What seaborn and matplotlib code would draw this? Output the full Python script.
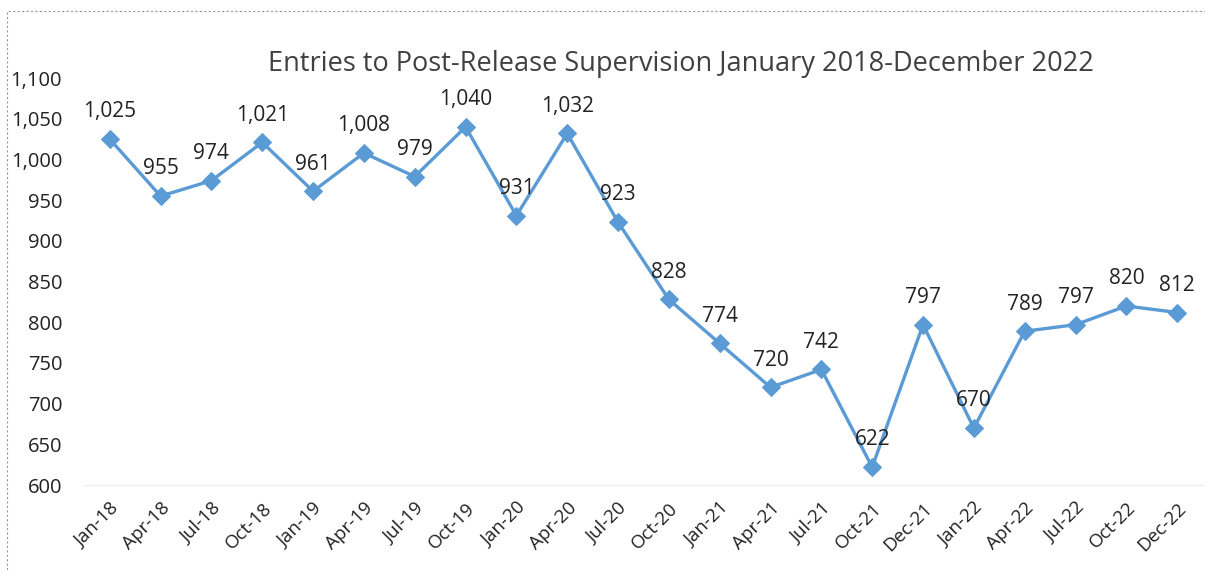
import matplotlib
matplotlib.use("Agg")
import matplotlib.pyplot as plt
import seaborn as sns
import pandas as pd
from matplotlib.patches import Rectangle

periods = ["Jan-18", "Apr-18", "Jul-18", "Oct-18", "Jan-19", "Apr-19", "Jul-19", "Oct-19",
           "Jan-20", "Apr-20", "Jul-20", "Oct-20", "Jan-21", "Apr-21", "Jul-21", "Oct-21",
           "Dec-21", "Jan-22", "Apr-22", "Jul-22", "Oct-22", "Dec-22"]
entries = [1025, 955, 974, 1021, 961, 1008, 979, 1040, 931, 1032, 923, 828, 774, 720, 742,
           622, 797, 670, 789, 797, 820, 812]
y_ticks = [600, 650, 700, 750, 800, 850, 900, 950, 1000, 1050, 1100]
title = "Entries to Post-Release Supervision January 2018-December 2022"

sns.set_theme(style="white")
plt.rcParams['font.family'] = ['Open Sans', 'DejaVu Sans']

df = pd.DataFrame({"period": periods, "entries": entries, "pos": range(len(periods))})

fig = plt.figure(figsize=(12.05, 5.7), dpi=100)
ax = fig.add_axes([0.070, 0.149, 0.928, 0.714])

color = "#5B9BD5"
sns.lineplot(data=df, x="pos", y="entries", ax=ax, color=color, linewidth=2.4,
             marker="D", markersize=9, markeredgecolor=color, markerfacecolor=color)

for x, y in zip(df["pos"], df["entries"]):
    ax.annotate(f"{y:,}", (x, y), xytext=(0, 12), textcoords="offset points",
                ha="center", va="bottom", fontsize=15, color="#222222")

ax.set_xlim(-0.5, len(periods) - 0.5)
ax.set_ylim(600, 1100)
ax.set_yticks(y_ticks)
ax.set_yticklabels([f"{v:,}" for v in y_ticks], fontsize=14.5, color="#222222")
ax.set_xticks(range(len(periods)))
ax.set_xticklabels(periods, rotation=45, ha="right", rotation_mode="anchor",
                   fontsize=13.5, color="#222222")
ax.tick_params(axis="x", length=0, pad=10)
ax.tick_params(axis="y", length=0, pad=16)
ax.set_xlabel("")
ax.set_ylabel("")
for s in ["top", "right", "left"]:
    ax.spines[s].set_visible(False)
ax.spines["bottom"].set_color("#eeeeee")
ax.spines["bottom"].set_linewidth(1.0)
ax.set_facecolor("none")

fig.text(0.565, 0.888, title, ha="center", va="center", fontsize=19.5, color="#404040")

fig.patches.append(Rectangle((0.006, -0.01), 1.0, 0.99, transform=fig.transFigure,
                             fill=False, edgecolor="#999999", linestyle=(0, (2, 2)),
                             linewidth=0.8))

fig.savefig("out.png", dpi=100)
